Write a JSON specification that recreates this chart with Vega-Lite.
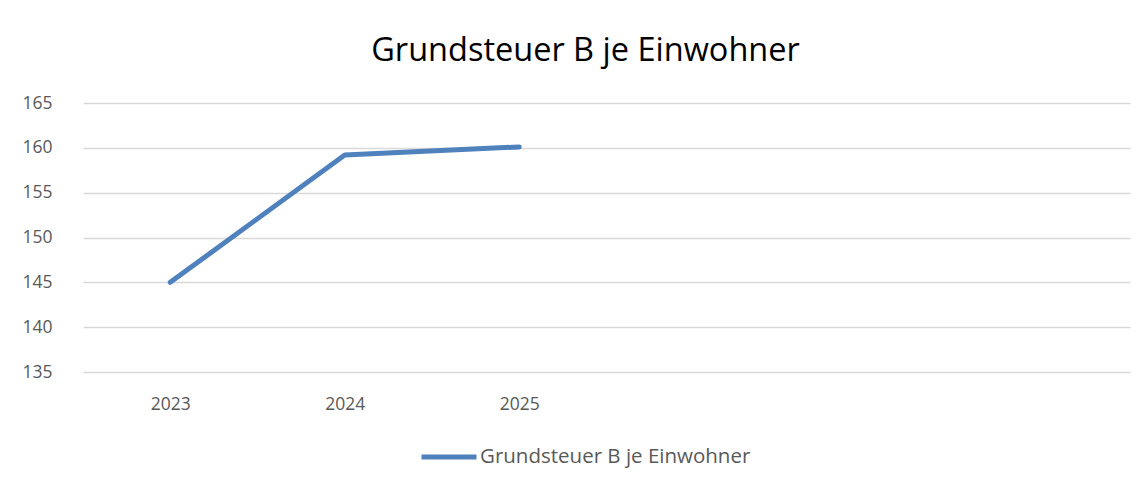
{
  "$schema": "https://vega.github.io/schema/vega-lite/v6.json",
  "width": 1047,
  "height": 269,
  "autosize": {"type": "none"},
  "padding": {"left": 83, "top": 103, "right": 17, "bottom": 120},
  "background": "white",
  "config": {
    "view": {"stroke": null},
    "font": "Open Sans"
  },
  "title": {
    "text": "Grundsteuer B je Einwohner",
    "font": "Open Sans",
    "fontSize": 32.5,
    "fontWeight": "normal",
    "color": "#000000",
    "anchor": "middle",
    "dx": -21,
    "offset": 27
  },
  "data": {
    "values": [
      {"Jahr": "2023", "Wert": 145.0, "Serie": "Grundsteuer B je Einwohner"},
      {"Jahr": "2024", "Wert": 159.2, "Serie": "Grundsteuer B je Einwohner"},
      {"Jahr": "2025", "Wert": 160.1, "Serie": "Grundsteuer B je Einwohner"}
    ]
  },
  "mark": {"type": "line", "strokeWidth": 5, "strokeCap": "round", "strokeJoin": "round"},
  "encoding": {
    "x": {
      "field": "Jahr",
      "type": "ordinal",
      "scale": {"type": "point", "domain": ["2023", "2024", "2025", "_4", "_5", "_6"], "padding": 0.5},
      "axis": {
        "title": null,
        "labelAngle": 0,
        "labelExpr": "indexof(['2023','2024','2025'], datum.label) >= 0 ? datum.label : ''",
        "domain": false,
        "ticks": false,
        "grid": false,
        "labelFont": "Open Sans",
        "labelFontSize": 17.5,
        "labelColor": "#595959",
        "labelPadding": 23
      }
    },
    "y": {
      "field": "Wert",
      "type": "quantitative",
      "scale": {"domain": [135, 165], "nice": false, "zero": false},
      "axis": {
        "title": null,
        "values": [135, 140, 145, 150, 155, 160, 165],
        "domain": false,
        "ticks": false,
        "grid": true,
        "gridColor": "#D9D9D9",
        "gridWidth": 1.5,
        "labelFont": "Open Sans",
        "labelFontSize": 17.5,
        "labelColor": "#595959",
        "labelPadding": 31
      }
    },
    "color": {
      "field": "Serie",
      "type": "nominal",
      "scale": {"range": ["#4F81BD"]},
      "legend": {
        "title": null,
        "orient": "none",
        "legendX": 336,
        "legendY": 324,
        "symbolType": "stroke",
        "symbolSize": 3025,
        "symbolStrokeWidth": 5,
        "labelFont": "Open Sans",
        "labelFontSize": 20.5,
        "labelColor": "#595959",
        "labelOffset": 1,
        "labelLimit": 0
      }
    }
  }
}
